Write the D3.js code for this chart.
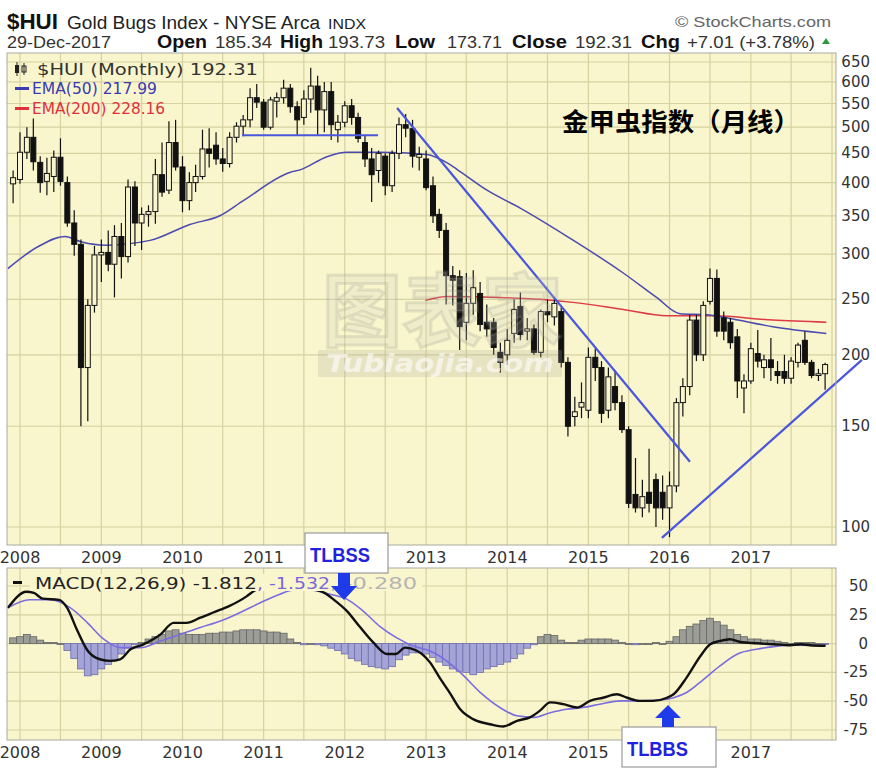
<!DOCTYPE html>
<html><head><meta charset="utf-8">
<script src="https://cdn.jsdelivr.net/npm/d3@7"></script>
<style>body{margin:0;background:#fff}svg{display:block}</style>
</head><body><svg id="c" width="876" height="776"></svg>
<script>
// ---------------- DATA ----------------
const months = ["2007-12",
"2008-01","2008-02","2008-03","2008-04","2008-05","2008-06","2008-07","2008-08","2008-09","2008-10","2008-11","2008-12",
"2009-01","2009-02","2009-03","2009-04","2009-05","2009-06","2009-07","2009-08","2009-09","2009-10","2009-11","2009-12",
"2010-01","2010-02","2010-03","2010-04","2010-05","2010-06","2010-07","2010-08","2010-09","2010-10","2010-11","2010-12",
"2011-01","2011-02","2011-03","2011-04","2011-05","2011-06","2011-07","2011-08","2011-09","2011-10","2011-11","2011-12",
"2012-01","2012-02","2012-03","2012-04","2012-05","2012-06","2012-07","2012-08","2012-09","2012-10","2012-11","2012-12",
"2013-01","2013-02","2013-03","2013-04","2013-05","2013-06","2013-07","2013-08","2013-09","2013-10","2013-11","2013-12",
"2014-01","2014-02","2014-03","2014-04","2014-05","2014-06","2014-07","2014-08","2014-09","2014-10","2014-11","2014-12",
"2015-01","2015-02","2015-03","2015-04","2015-05","2015-06","2015-07","2015-08","2015-09","2015-10","2015-11","2015-12",
"2016-01","2016-02","2016-03","2016-04","2016-05","2016-06","2016-07","2016-08","2016-09","2016-10","2016-11","2016-12",
"2017-01","2017-02","2017-03","2017-04","2017-05","2017-06","2017-07","2017-08","2017-09","2017-10","2017-11","2017-12"];

const opens = [398,
405,452,480,434,402,410,443,400,340,312,190,244,
299,302,288,322,297,393,340,352,356,413,388,470,
426,372,400,410,458,465,440,432,480,502,515,563,
553,500,555,563,585,543,520,560,590,536,577,495,
510,545,520,470,440,420,445,395,450,505,497,443,
440,395,352,330,275,274,228,246,256,228,228,202,
200,218,243,220,222,202,238,233,238,194,156,162,
160,198,190,160,176,165,148,114,108,115,121,115,
108,118,165,176,230,200,248,272,232,228,215,175,
180,201,190,196,187,187,182,194,212,194,184,185.34];

const highs = [420,
490,500,518,445,442,455,478,410,358,318,250,310,
318,330,337,340,405,402,362,365,440,470,512,515,
445,417,430,495,498,490,460,490,510,525,585,595,
560,565,575,605,595,555,580,635,615,600,600,525,
555,560,530,484,460,455,450,455,520,527,515,462,
455,410,360,340,286,281,278,281,268,245,232,210,
222,250,257,232,226,240,250,250,242,198,169,179,
206,205,195,190,188,170,150,132,121,137,124,123,
125,168,182,235,235,248,283,282,238,232,222,185,
210,221,200,214,195,200,198,210,220,196,189,193.73];

const lows = [368,
398,440,420,384,380,385,395,335,298,150,153,237,
268,280,252,272,290,310,305,335,339,378,382,420,
355,358,385,405,425,430,418,425,470,482,500,540,
495,495,520,550,530,485,505,530,485,490,475,470,
500,505,470,426,370,400,380,385,440,480,425,420,
388,340,320,245,244,204,212,235,220,215,200,186,
192,210,212,212,200,198,228,225,190,144,150,155,
155,180,152,155,160,146,108,106,104,106,100,103,
96,115,156,170,195,195,245,215,212,205,168,158,
178,190,182,180,178,178,178,190,192,182,180,173.71];

const closes = [408,
452,480,435,400,415,443,402,340,312,190,244,299,
302,288,322,297,393,340,352,356,413,385,470,426,
372,400,410,458,450,440,432,480,502,515,563,553,
500,558,563,585,543,515,560,590,536,577,505,510,
545,520,478,440,413,450,395,450,505,498,445,448,
392,350,330,275,270,224,246,262,226,222,206,194,
212,240,217,222,202,238,235,246,194,150,159,165,
198,190,158,183,165,148,110,108,113,110,108,108,
118,165,176,230,200,244,272,220,220,210,180,180,
205,195,196,190,184,182,195,208,194,184,185.3,192.31];

// EMA lines (decimal year, value)
const ema50Years  = [2007.85,2008.22,2008.55,2008.76,2009.05,2009.60,2010.09,2010.46,2010.75,2011.33,2011.45,2011.78,2012.03,2012.43,2013.01,2013.26,2013.38,2013.75,2014.16,2014.77,2015.43,2015.84,2016.13,2016.46,2016.71,2017.27,2017.93];
const ema50Values = [283,309,322,315,311,317,338,350,372,417,421,444,452,452,448,433,422,388,361,320,278,252,236,235,232,224,218];
const ema200Years  = [2012.99,2013.26,2013.91,2014.40,2014.81,2015.43,2015.97,2016.53,2017.27,2017.93];
const ema200Values = [249,253,252,250,247,240,234,234,230,228];

// MACD line and signal (decimal year, value)
const macdYears = [2007.85,2008.08,2008.17,2008.28,2008.48,2008.58,2008.70,2008.83,2008.98,2009.11,2009.23,2009.36,2009.52,2009.73,2009.89,2010.05,2010.22,2010.38,2010.58,2010.79,2010.88,2011.08,2011.25,2011.42,2011.58,2011.75,2011.86,2012.03,2012.18,2012.35,2012.52,2012.63,2012.74,2012.88,2013.05,2013.17,2013.29,2013.42,2013.58,2013.79,2013.95,2014.12,2014.28,2014.40,2014.53,2014.69,2014.86,2015.02,2015.18,2015.35,2015.48,2015.63,2015.80,2015.97,2016.05,2016.21,2016.38,2016.50,2016.62,2016.74,2016.87,2017.07,2017.28,2017.48,2017.61,2017.73,2017.92];
const macdValues = [31,45,44,39,38,31,12,-6,-13.6,-15,-13.6,-5,-0.6,8,18,18,22.5,27,32.7,41,45.7,53,56,54,48,44,38.4,28,15,1,-9,-9,-3.5,-6,-16.5,-30,-42.5,-57,-65.6,-70,-72,-67,-64,-58.4,-51,-52.6,-55.5,-49.7,-47,-44,-47,-49.7,-49.7,-47,-44,-29.5,-10.7,-0.6,2.3,3.8,1.4,0.3,-0.6,-1.4,-0.6,-1.4,-1.81];
const signalYears = [2007.85,2008.12,2008.37,2008.62,2008.83,2009.03,2009.23,2009.48,2009.73,2009.97,2010.22,2010.47,2010.71,2010.96,2011.20,2011.37,2011.57,2011.82,2012.03,2012.23,2012.43,2012.64,2012.84,2013.05,2013.17,2013.42,2013.67,2013.91,2014.12,2014.33,2014.53,2014.73,2014.93,2015.14,2015.39,2015.63,2015.88,2016.05,2016.21,2016.42,2016.62,2016.83,2017.07,2017.28,2017.52,2017.92];
const signalValues = [31,38,38,31,18,3.8,-3.5,-3.5,2.3,8,14,19.6,27,35.5,42.8,46.5,46.5,42.8,38.4,28,15,5,-2,-6.4,-11,-25,-42.5,-55.5,-62.7,-64,-60,-57,-55.5,-52.6,-49.7,-49.7,-49,-47,-42.5,-31,-19.4,-9.2,-4.9,-2.6,-1.4,-1.53];
// Histogram, one value per month (same months as candles)
const histValues = [5,
6,8,6,3,1,1,0,-6,-13,-22,-28,-27,
-22,-18,-14,-9,-4,-1,1,4,6,8,11,12,
9,8,8,8,9,9,10,10,11,12,12,12,
11,10,10,9,4,1,-1,0,-1,-2,-4,-6,
-9,-13,-15,-18,-20,-21,-22,-20,-14,-10,-8,-8,
-9,-12,-16,-19,-22,-24,-25,-27,-25,-22,-20,-18,
-16,-13,-9,-4,-1,6,8,7,3,1,1,3,
4,4,4,4,3,1,0,-1,0,0,1,0,
2,6,12,15,17,20,22,19,16,12,8,6,
4,4,3,3,2,1,0,1,1,1,0,-0.3];

// Trend lines drawn on the price panel: [year, price] pairs
const trendLines = [
  [[2010.734, 484], [2012.409, 484]],
  [[2012.643, 540], [2016.251, 130]],
  [[2015.906, 95.7], [2018.369, 196]]
];

const priceTicks = [100,150,200,250,300,350,400,450,500,550,600,650];
const macdTicks = [50,25,0,-25,-50,-75];
const yearLabels = [2008,2009,2010,2011,2012,2013,2014,2015,2016,2017];

// ---------------- DRAW ----------------
const svg = d3.select("#c");
const BG = "#f9f5cc", GRID = "#d6d2a2", FRAME = "#a9a9a0";
const P = {l:7, r:836, t:53, b:545};
const M = {l:7, r:836, t:568, b:740};

const x = d3.scaleTime().domain([new Date(2008,0,1), new Date(2018,0,1)]).range([20, 832]);
const y = d3.scaleLog().domain([100, 650]).range([527, 62]);
const ym = d3.scaleLinear().domain([50, -75]).range([586, 730]);
const dec = t => { const yr = Math.floor(t); const a = new Date(yr,0,1), b = new Date(yr+1,0,1); return new Date(+a + (t-yr)*(b-a)); };
const mdate = s => { const [yy, mm] = s.split("-").map(Number); return new Date(yy, mm-1, 1); };

const defs = svg.append("defs");
defs.append("clipPath").attr("id","cp").append("rect").attr("x",P.l).attr("y",P.t).attr("width",P.r-P.l).attr("height",P.b-P.t);
defs.append("clipPath").attr("id","cm").append("rect").attr("x",M.l).attr("y",M.t).attr("width",M.r-M.l).attr("height",M.b-M.t);

function txt(g, xx, yy, s, o) {
  o = o || {};
  const t = g.append("text").attr("x", xx).attr("y", yy).text(s)
    .attr("font-family", o.family || "DejaVu Sans")
    .attr("font-size", o.size || 14)
    .attr("font-weight", o.weight || "normal")
    .attr("fill", o.fill || "#222")
    .attr("text-anchor", o.anchor || "start");
  if (o.len) t.attr("textLength", o.len).attr("lengthAdjust", "spacingAndGlyphs");
  if (o.style) t.attr("font-style", o.style);
  return t;
}

// panels
[P, M].forEach(r => svg.append("rect").attr("x", r.l).attr("y", r.t).attr("width", r.r-r.l).attr("height", r.b-r.t).attr("fill", BG));

const halfYears = d3.timeMonth.every(6).range(new Date(2008,0,1), new Date(2018,0,2));
// main grid
const gp = svg.append("g").attr("clip-path","url(#cp)");
gp.selectAll("line.v").data(halfYears).join("line").attr("x1", d=>x(d)).attr("x2", d=>x(d)).attr("y1", P.t).attr("y2", P.b).attr("stroke", GRID).attr("stroke-width",1.2);
gp.selectAll("line.h").data(priceTicks).join("line").attr("x1", P.l).attr("x2", P.r).attr("y1", d=>y(d)).attr("y2", d=>y(d)).attr("stroke", GRID).attr("stroke-width",1.2);
// macd grid
const gm = svg.append("g").attr("clip-path","url(#cm)");
gm.selectAll("line.v").data(halfYears).join("line").attr("x1", d=>x(d)).attr("x2", d=>x(d)).attr("y1", M.t).attr("y2", M.b).attr("stroke", GRID).attr("stroke-width",1.2);
gm.selectAll("line.h").data(macdTicks).join("line").attr("x1", M.l).attr("x2", M.r).attr("y1", d=>ym(d)).attr("y2", d=>ym(d)).attr("stroke", GRID).attr("stroke-width",1.2);

// watermark (faint)
const wm = svg.append("g").attr("clip-path","url(#cp)");
txt(wm, 322, 340, "图表家", {family:"Noto Sans CJK SC", size:80, weight:"bold", fill:"rgba(205,205,195,0.22)", len:240}).attr("stroke","rgba(150,150,140,0.22)").attr("stroke-width",3);
wm.append("rect").attr("x",318).attr("y",350).attr("width",244).attr("height",27).attr("fill","rgba(165,165,155,0.22)");
txt(wm, 326, 372, "Tubiaojia.com", {family:"DejaVu Sans", size:24, weight:"bold", style:"italic", fill:"rgba(255,255,255,0.6)", len:228});

// EMA lines
const lineYV = (ys, vs, sc) => d3.line().curve(d3.curveMonotoneX)(ys.map((t,i)=>[x(dec(t)), sc(vs[i])]));
gp.append("path").attr("d", lineYV(ema200Years, ema200Values, y)).attr("fill","none").attr("stroke","#dd3a48").attr("stroke-width",1.5);
gp.append("path").attr("d", lineYV(ema50Years, ema50Values, y)).attr("fill","none").attr("stroke","#4a4ab0").attr("stroke-width",1.5);

// candles
const candles = months.map((m,i)=>({d:mdate(m), o:opens[i], h:highs[i], l:lows[i], c:closes[i]}));
const cg = gp.append("g");
cg.selectAll("line.w").data(candles).join("line")
  .attr("x1", d=>x(d.d)).attr("x2", d=>x(d.d)).attr("y1", d=>y(d.h)).attr("y2", d=>y(d.l))
  .attr("stroke","#111").attr("stroke-width",1.2);
cg.selectAll("rect.b").data(candles).join("rect")
  .attr("x", d=>x(d.d)-2.5).attr("width",5)
  .attr("y", d=>y(Math.max(d.o,d.c))).attr("height", d=>Math.max(1, Math.abs(y(d.o)-y(d.c))))
  .attr("fill", d=> d.c < d.o ? "#111" : BG).attr("stroke","#111").attr("stroke-width",1);

// trendlines (horizontal + descending clipped, ascending runs past the edge)
trendLines.forEach((tl, i) => {
  const g = i < 2 ? gp : svg;
  g.append("line").attr("x1", x(dec(tl[0][0]))).attr("y1", y(tl[0][1])).attr("x2", x(dec(tl[1][0]))).attr("y2", y(tl[1][1]))
    .attr("stroke","#4a56dc").attr("stroke-width",2.2);
});

// MACD histogram
const hist = months.map((m,i)=>({d:mdate(m), v:histValues[i]}));
const bw = x(new Date(2010,1,1)) - x(new Date(2010,0,1));
gm.selectAll("rect.h").data(hist).join("rect")
  .attr("x", d=>x(d.d)-bw/2).attr("width", bw)
  .attr("y", d=>Math.min(ym(0), ym(d.v))).attr("height", d=>Math.max(0.8, Math.abs(ym(d.v)-ym(0))))
  .attr("fill", d=> d.v >= 0 ? "#9d9d98" : "#a4a4d6")
  .attr("stroke", d=> d.v >= 0 ? "#666" : "#6e6eae").attr("stroke-width",0.8);
gm.append("path").attr("d", lineYV(signalYears, signalValues, ym)).attr("fill","none").attr("stroke","#7b6ce0").attr("stroke-width",1.6);
gm.append("path").attr("d", lineYV(macdYears, macdValues, ym)).attr("fill","none").attr("stroke","#111").attr("stroke-width",2.4);

// frames
[P, M].forEach(r => svg.append("rect").attr("x", r.l).attr("y", r.t).attr("width", r.r-r.l).attr("height", r.b-r.t).attr("fill","none").attr("stroke",FRAME).attr("stroke-width",1));

// axes labels
const ax = svg.append("g");
priceTicks.forEach(v => txt(ax, 870, y(v)+5, String(v), {size:15, fill:"#333", anchor:"end"}));
macdTicks.forEach(v => txt(ax, 868, ym(v)+5, String(v), {size:15, fill:"#333", anchor:"end"}));
yearLabels.forEach(yr => {
  txt(ax, x(new Date(yr,0,1)), 563, String(yr), {size:16, fill:"#333", anchor:"middle"});
  txt(ax, x(new Date(yr,0,1)), 758, String(yr), {size:16, fill:"#333", anchor:"middle"});
});

// header
const hd = svg.append("g");
txt(hd, 7, 29, "$HUI", {family:"Liberation Sans", size:22, weight:"bold", fill:"#111", len:51});
txt(hd, 67, 29, "Gold Bugs Index - NYSE Arca", {family:"Liberation Sans", size:18, fill:"#222", len:253});
txt(hd, 328, 29, "INDX", {family:"Liberation Sans", size:14, fill:"#222", len:38});
txt(hd, 675, 27, "© StockCharts.com", {family:"Liberation Sans", size:15, fill:"#666", len:156});
const row2 = [
  [7, "29-Dec-2017", false, 104],
  [157, "Open", true, 50], [215, "185.34", false, 57],
  [280, "High", true, 43], [328, "193.73", false, 57],
  [395, "Low", true, 40], [447, "173.71", false, 55],
  [512, "Close", true, 55], [575, "192.31", false, 57],
  [641, "Chg", true, 39], [687, "+7.01 (+3.78%)", false, 128]
];
row2.forEach(r => txt(hd, r[0], 48, r[1], {family:"Liberation Sans", size: r[2]?18:17, weight: r[2]?"bold":"normal", fill: r[2]?"#111":"#333", len:r[3]}));
hd.append("path").attr("d","M822,44 L830,44 L826,38 Z").attr("fill","#2a9a3a");

// price legend
const lg = svg.append("g");
lg.append("rect").attr("x",15).attr("y",65).attr("width",4).attr("height",8).attr("fill","#222");
lg.append("line").attr("x1",17).attr("x2",17).attr("y1",62).attr("y2",76).attr("stroke","#222");
lg.append("rect").attr("x",22).attr("y",66).attr("width",4).attr("height",6).attr("fill","none").attr("stroke","#222");
lg.append("line").attr("x1",24).attr("x2",24).attr("y1",63).attr("y2",75).attr("stroke","#222");
txt(lg, 37, 75, "$HUI (Monthly) 192.31", {size:15, fill:"#333", len:221});
lg.append("rect").attr("x",15).attr("y",87).attr("width",14).attr("height",3).attr("fill","#3a3ab4");
txt(lg, 32, 94, "EMA(50) 217.99", {size:15, fill:"#3a3ab4", len:125});
lg.append("rect").attr("x",15).attr("y",107).attr("width",14).attr("height",3).attr("fill","#e0303f");
txt(lg, 32, 114, "EMA(200) 228.16", {size:15, fill:"#e0303f", len:133});

// Chinese title
txt(svg, 562, 131, "金甲虫指数（月线）", {family:"Noto Sans CJK SC", size:25, weight:"bold", fill:"#000", len:238});

// MACD legend (text sits on a panel-coloured backing that hides the lines beneath)
const ml = svg.append("g");
ml.append("rect").attr("x",30).attr("y",574).attr("width",392).attr("height",17).attr("fill",BG);
ml.append("rect").attr("x",13).attr("y",581).attr("width",9).attr("height",3).attr("fill","#111");
txt(ml, 35, 589, "MACD(12,26,9) -1.812", {size:16, fill:"#222", len:222});
txt(ml, 257, 589, ", -1.532", {size:16, fill:"#7a66dd", len:73});
txt(ml, 330, 589, ", -0.280", {size:16, fill:"#b4b4b4", len:87});

// annotations
const an = svg.append("g");
an.append("rect").attr("x",305).attr("y",533).attr("width",83).attr("height",40).attr("fill","#fff").attr("stroke","#9a9a9a").attr("stroke-width",1.2);
txt(an, 310, 562, "TLBSS", {family:"Liberation Sans", size:20, weight:"bold", fill:"#1f22e0", len:60});
an.append("path").attr("d","M338,573 L350,573 L350,586 L357,586 L344,600 L331,586 L338,586 Z").attr("fill","#1f3ae8");
an.append("rect").attr("x",622).attr("y",727).attr("width",94).attr("height",40).attr("fill","#fff").attr("stroke","#9a9a9a").attr("stroke-width",1.2);
txt(an, 627, 756, "TLBBS", {family:"Liberation Sans", size:20, weight:"bold", fill:"#1f22e0", len:61});
an.append("path").attr("d","M662,727 L674,727 L674,718 L681,718 L668,705 L655,718 L662,718 Z").attr("fill","#1f3ae8");
</script>
</body></html>
